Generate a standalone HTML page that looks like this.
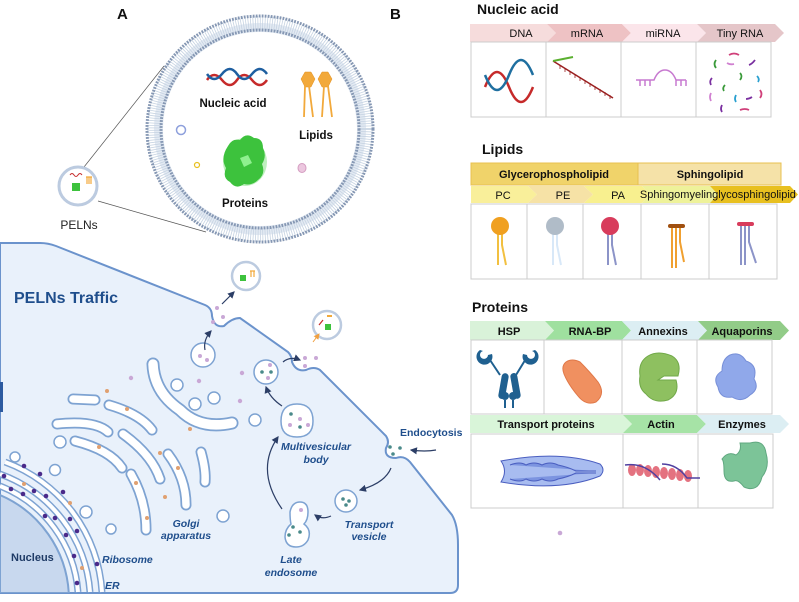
<!DOCTYPE html>
<html><head><meta charset="utf-8"><style>
html,body{margin:0;padding:0;background:#fff;width:799px;height:602px;overflow:hidden;}
svg{display:block;font-family:"Liberation Sans",Arial,sans-serif;}
.t{font-weight:bold;fill:#111;}
.lb{font-weight:bold;fill:#1f4e8c;font-style:italic;font-size:10.5px;}
.hd{font-weight:bold;font-size:11px;fill:#111;text-anchor:middle;}
.hn{font-size:11px;fill:#111;text-anchor:middle;}
</style></head><body>
<svg width="799" height="602" viewBox="0 0 799 602" xmlns="http://www.w3.org/2000/svg">
<defs>
<marker id="ar" markerWidth="6" markerHeight="6" refX="5" refY="3" orient="auto"><path d="M0,0 L6,3 L0,6 z" fill="#2c3e66"/></marker>
<marker id="ao" markerWidth="6" markerHeight="6" refX="5" refY="3" orient="auto"><path d="M0,0 L6,3 L0,6 z" fill="#f0a040"/></marker>
<clipPath id="cellclip"><path id="cellp" d="M0,243 L40,243 Q48,243 56,246 L205,305 Q212,308 212,316 Q214,328 224,326 Q232,318 240,318 L288,352 Q292,356 292,362 Q296,372 306,370 Q314,366 320,370 L386,436 Q390,442 386,448 Q384,458 396,458 Q404,455 410,462 L452,515 Q458,525 458,545 L458,585 Q458,593 450,593 L0,593 Z"/></clipPath>
</defs>

<text x="117" y="19" class="t" font-size="15">A</text>
<text x="390" y="19" class="t" font-size="15">B</text>

<line x1="84" y1="167" x2="164" y2="66" stroke="#555" stroke-width="0.7"/>
<line x1="98" y1="201" x2="206" y2="232" stroke="#555" stroke-width="0.7"/>

<circle cx="260" cy="129" r="106" fill="#e3eaf3"/>
<circle cx="260" cy="129" r="106" fill="none" stroke="#c6d3e2" stroke-width="14" stroke-dasharray="0.8 1.6"/>
<circle cx="260" cy="129" r="113" fill="none" stroke="#8597b3" stroke-width="3" stroke-dasharray="1.8 1.2"/>
<circle cx="260" cy="129" r="99" fill="none" stroke="#8597b3" stroke-width="3" stroke-dasharray="1.8 1.2"/>
<circle cx="260" cy="129" r="97" fill="#fff"/>
<path d="M207,80 q7,-10 15,0 t15,0 t15,0 t15,0" fill="none" stroke="#c62a2a" stroke-width="2.5"/>
<path d="M207,74 q7,10 15,0 t15,0 t15,0 t15,0" fill="none" stroke="#1f5fa0" stroke-width="2.5"/>
<text x="233" y="107" class="t" font-size="11.5" text-anchor="middle">Nucleic acid</text>
<g fill="#f2a93b" stroke="#e29020" stroke-width="0.5">
<polygon points="305,72 311,72 315,79 311,87 305,87 301,79"/>
<polygon points="322,72 328,72 332,79 328,87 322,87 318,79"/>
</g>
<g stroke="#f2a93b" stroke-width="1.8" fill="none">
<path d="M305,86 L304,117 M309,86 L313,117 M324,86 L322,117 M328,86 L332,117"/>
</g>
<text x="316" y="139" class="t" font-size="11.5" text-anchor="middle">Lipids</text>
<ellipse cx="245" cy="162" rx="22" ry="24" fill="#7de07d" opacity="0.5"/>
<path d="M228,146 q4,-8 12,-6 q6,-8 14,-2 q9,0 9,10 q4,8 -1,16 q4,10 -4,16 q-6,6 -14,4 q-8,6 -14,-2 q-8,-4 -4,-14 q-6,-10 2,-22z" fill="#3dc23d"/>
<path d="M240,158 l8,-3 l4,8 l-8,4z" fill="#8ff08f"/>
<text x="245" y="207" class="t" font-size="11.5" text-anchor="middle">Proteins</text>
<circle cx="181" cy="130" r="4.5" fill="#fff" stroke="#8ea0dc" stroke-width="1.5"/>
<circle cx="197" cy="165" r="2.5" fill="#fff" stroke="#e8c020" stroke-width="1.2"/>
<ellipse cx="302" cy="168" rx="4" ry="4.5" fill="#ecc7df" stroke="#d49cc0" stroke-width="1"/>

<circle cx="78" cy="186" r="19" fill="#fff" stroke="#bccbe0" stroke-width="3"/>
<path d="M70,175 q2,-3 4,0 t4,0 t4,0" fill="none" stroke="#c62a2a" stroke-width="1"/>
<rect x="72" y="183" width="8" height="8" fill="#3dc23d"/>
<path d="M86,177 h6 M87,177 v7 M89,177 v7 M91,177 v7" stroke="#f2a93b" stroke-width="1.2"/>
<text x="79" y="229" font-size="12" text-anchor="middle" fill="#222">PELNs</text>

<use href="#cellp" fill="#e9f1fb" stroke="#6b93cc" stroke-width="2"/>
<rect x="0" y="382" width="3" height="30" fill="#2c5aa0"/>
<text x="14" y="303" font-size="16" font-weight="bold" fill="#1f4e8c">PELNs Traffic</text>

<g clip-path="url(#cellclip)">
<path d="M0,495 A114,114 0 0 1 68.8,593 L0,593 Z" fill="#c8d8ee" stroke="#7ea3d2" stroke-width="2"/>
<g fill="none" stroke-linecap="butt">
<g stroke="#7ea3d2" stroke-width="7">
<path d="M0,486 A124,124 0 0 1 78,592"/>
<path d="M0,474 A136,136 0 0 1 90,592"/>
<path d="M5,462 A148,148 0 0 1 102,592"/>
</g>
<g stroke="#ffffff" stroke-width="4">
<path d="M0,486 A124,124 0 0 1 78,592"/>
<path d="M0,474 A136,136 0 0 1 90,592"/>
<path d="M5,462 A148,148 0 0 1 102,592"/>
</g>
</g>
<g fill="#4a2a8a">
<circle cx="4" cy="476" r="2.3"/><circle cx="24" cy="466" r="2.3"/><circle cx="40" cy="474" r="2.3"/>
<circle cx="11" cy="489" r="2.3"/><circle cx="34" cy="491" r="2.3"/><circle cx="23" cy="494" r="2.3"/>
<circle cx="46" cy="496" r="2.3"/><circle cx="63" cy="492" r="2.3"/><circle cx="55" cy="518" r="2.3"/>
<circle cx="45" cy="516" r="2.3"/><circle cx="70" cy="519" r="2.3"/><circle cx="66" cy="535" r="2.3"/>
<circle cx="77" cy="531" r="2.3"/><circle cx="74" cy="556" r="2.3"/><circle cx="97" cy="564" r="2.3"/><circle cx="77" cy="583" r="2.3"/>
</g>
</g>
<text x="11" y="561" font-size="11" font-weight="bold" fill="#1f3b66">Nucleus</text>
<text x="102" y="563" class="lb">Ribosome</text>
<text x="105" y="589" class="lb">ER</text>

<g fill="none" stroke-linecap="round">
<g stroke="#7ea3d2" stroke-width="11">
<path d="M73,399 L95,400"/>
<path d="M109,405 Q140,414 152,430"/>
<path d="M57,424 Q95,420 108,432"/>
<path d="M75,441 Q110,450 122,468"/>
<path d="M123,434 Q152,455 160,479"/>
<path d="M131,474 Q146,500 146,530"/>
<path d="M168,454 Q186,478 186,505"/>
<path d="M201,452 Q206,470 205,482"/>
<path d="M153,364 Q154,392 180,410 Q200,430 232,423" stroke-width="13"/>
</g>
<g stroke="#ffffff" stroke-width="7.5">
<path d="M73,399 L95,400"/>
<path d="M109,405 Q140,414 152,430"/>
<path d="M57,424 Q95,420 108,432"/>
<path d="M75,441 Q110,450 122,468"/>
<path d="M123,434 Q152,455 160,479"/>
<path d="M131,474 Q146,500 146,530"/>
<path d="M168,454 Q186,478 186,505"/>
<path d="M201,452 Q206,470 205,482"/>
<path d="M153,364 Q154,392 180,410 Q200,430 232,423" stroke-width="9.5"/>
</g>
</g>
<g fill="#fff" stroke="#7ea3d2" stroke-width="1.5">
<circle cx="177" cy="385" r="6"/><circle cx="195" cy="404" r="6"/><circle cx="214" cy="398" r="6"/>
<circle cx="255" cy="420" r="6"/><circle cx="223" cy="516" r="6"/><circle cx="60" cy="442" r="6"/>
<circle cx="15" cy="457" r="5"/><circle cx="86" cy="512" r="6"/><circle cx="111" cy="529" r="5"/>
<circle cx="55" cy="470" r="5.5"/>
<circle cx="203" cy="355" r="12"/><circle cx="266" cy="372" r="12"/>
<circle cx="346" cy="501" r="11"/>
<path d="M297,404 q16,0 16,17 q0,16 -16,16 q-16,0 -16,-16 q0,-17 16,-17z"/>
<path d="M300,502 q8,0 8,10 q0,8 -4,12 q8,6 4,16 q-4,7 -12,7 q-10,0 -11,-10 q0,-8 6,-13 q-1,-4 -1,-12 q2,-10 10,-10z"/>
</g>
<g fill="#c9a8d6">
<circle cx="131" cy="378" r="2.2"/><circle cx="199" cy="381" r="2.2"/><circle cx="242" cy="373" r="2.2"/>
<circle cx="240" cy="401" r="2.2"/><circle cx="200" cy="356" r="2"/><circle cx="207" cy="360" r="2"/>
<circle cx="270" cy="365" r="2"/><circle cx="268" cy="378" r="2"/><circle cx="290" cy="425" r="2"/>
<circle cx="300" cy="419" r="2"/><circle cx="308" cy="425" r="2"/><circle cx="301" cy="510" r="2"/>
<circle cx="217" cy="308" r="2"/><circle cx="223" cy="317" r="2"/><circle cx="213" cy="322" r="2"/>
<circle cx="305" cy="358" r="2"/><circle cx="305" cy="366" r="2"/><circle cx="316" cy="358" r="2"/>
<circle cx="560" cy="533" r="2.3"/>
</g>
<g fill="#e0a070">
<circle cx="107" cy="391" r="2"/><circle cx="127" cy="409" r="2"/><circle cx="99" cy="447" r="2"/>
<circle cx="136" cy="483" r="2"/><circle cx="160" cy="453" r="2"/><circle cx="165" cy="497" r="2"/>
<circle cx="147" cy="518" r="2"/><circle cx="178" cy="468" r="2"/><circle cx="190" cy="429" r="2"/>
<circle cx="24" cy="484" r="2"/><circle cx="70" cy="503" r="2"/><circle cx="82" cy="568" r="2"/>
</g>
<g fill="#4a8a8a">
<circle cx="262" cy="372" r="1.8"/><circle cx="271" cy="372" r="1.8"/><circle cx="291" cy="414" r="1.8"/>
<circle cx="300" cy="427" r="1.8"/><circle cx="293" cy="527" r="1.8"/><circle cx="289" cy="535" r="1.8"/>
<circle cx="300" cy="532" r="1.8"/><circle cx="343" cy="499" r="1.8"/><circle cx="349" cy="501" r="1.8"/><circle cx="346" cy="505" r="1.8"/>
<circle cx="390" cy="447" r="1.8"/><circle cx="400" cy="448" r="1.8"/><circle cx="393" cy="454" r="1.8"/>
</g>

<circle cx="246" cy="276" r="14" fill="#fff" stroke="#bccbe0" stroke-width="2.5"/>
<rect x="240" y="275" width="6" height="6" fill="#3dc23d"/><path d="M250,271 h5 M251,271 v6 M254,271 v6" stroke="#f2a93b" stroke-width="1.2"/>
<circle cx="327" cy="325" r="14" fill="#fff" stroke="#bccbe0" stroke-width="2.5"/>
<rect x="325" y="324" width="6" height="6" fill="#3dc23d"/><path d="M319,325 l4,-5" stroke="#c62a2a" stroke-width="1.2"/><path d="M327,316 h5" stroke="#f2a93b" stroke-width="2"/>

<g fill="none" stroke="#2c3e66" stroke-width="1.2" marker-end="url(#ar)">
<path d="M222,304 L234,292"/>
<path d="M205,350 Q203,340 211,331"/>
<path d="M283,362 Q290,356 300,360"/>
<path d="M282,406 Q270,398 266,387"/>
<path d="M282,509 Q255,470 278,437"/>
<path d="M331,516 Q322,520 315,515"/>
<path d="M391,468 Q385,483 360,490"/>
<path d="M436,450 Q425,452 411,450"/>
</g>
<path d="M313,342 L319,334" stroke="#f0a040" stroke-width="1" marker-end="url(#ao)"/>

<text x="400" y="436" font-size="10.5" font-weight="bold" fill="#1f4e8c">Endocytosis</text>
<text x="316" y="450" class="lb" text-anchor="middle">Multivesicular</text>
<text x="316" y="463" class="lb" text-anchor="middle">body</text>
<text x="291" y="563" class="lb" text-anchor="middle">Late</text>
<text x="291" y="576" class="lb" text-anchor="middle">endosome</text>
<text x="369" y="528" class="lb" text-anchor="middle">Transport</text>
<text x="369" y="540" class="lb" text-anchor="middle">vesicle</text>
<text x="186" y="527" class="lb" text-anchor="middle">Golgi</text>
<text x="186" y="539" class="lb" text-anchor="middle">apparatus</text>

<text x="477" y="14" font-size="14" font-weight="bold" fill="#111">Nucleic acid</text>
<polygon points="470,24 547,24 556,33 547,42 470,42" fill="#f6dcdc"/>
<polygon points="547,24 622,24 631,33 622,42 556,42 547,42 556,33" fill="#eec2c4"/>
<polygon points="622,24 697,24 706,33 697,42 622,42 631,33" fill="#fbe5ea"/>
<polygon points="697,24 775,24 784,33 775,42 697,42 706,33" fill="#e5c6c9"/>
<text x="521" y="37" class="hn">DNA</text><text x="587" y="37" class="hn">mRNA</text>
<text x="663" y="37" class="hn">miRNA</text><text x="740" y="37" class="hn">Tiny RNA</text>
<g fill="#fff" stroke="#ccc" stroke-width="1">
<rect x="471" y="42" width="75" height="75"/><rect x="546" y="42" width="75" height="75"/>
<rect x="621" y="42" width="75" height="75"/><rect x="696" y="42" width="75" height="75"/>
</g>
<path d="M485,87 q12,-30 24,0 t24,0" fill="none" stroke="#c62a2a" stroke-width="2.5"/>
<path d="M485,75 q12,30 24,0 t24,0" fill="none" stroke="#1f6fa0" stroke-width="2.5"/>
<path d="M553,61 L613,98" stroke="#9a2020" stroke-width="1.5"/>
<path d="M553,61 l20,-4" stroke="#5bb030" stroke-width="2"/>
<path d="M560,65 v4 M565,68 v4 M570,71 v4 M575,74 v4 M580,77 v4 M585,80 v4 M590,83 v4 M595,86 v4 M600,89 v4 M605,92 v4 M610,95 v4" stroke="#9a2020" stroke-width="0.8"/>
<path d="M636,80 h18 q4,-10 11,-10 q7,0 11,10 h10 M640,80 v6 M645,80 v6 M650,80 v6 M676,80 v6 M681,80 v6 M686,80 v6" fill="none" stroke="#c77ad0" stroke-width="1.5"/>
<g fill="none" stroke-width="1.8">
<path d="M716,60 q-3,4 0,8" stroke="#3a9a3a"/><path d="M729,55 q5,-3 10,0" stroke="#d0407a"/>
<path d="M755,60 q-3,4 -6,5" stroke="#7a30a0"/><path d="M712,78 q-3,3 -1,7" stroke="#7a30a0"/>
<path d="M740,73 q3,3 0,7" stroke="#3a9a3a"/><path d="M757,76 q3,3 1,6" stroke="#2aa0d0"/>
<path d="M711,93 q-2,4 0,8" stroke="#d080d0"/><path d="M725,85 q-3,3 -1,6" stroke="#3a9a3a"/>
<path d="M736,95 q-2,4 0,7" stroke="#2aa0d0"/><path d="M752,97 q-3,2 -6,2" stroke="#7a30a0"/>
<path d="M760,90 q3,4 0,8" stroke="#d0407a"/><path d="M722,105 q-2,4 0,7" stroke="#7a30a0"/>
<path d="M740,110 q5,-2 9,0" stroke="#d0407a"/><path d="M727,63 q3,2 7,1" stroke="#d080d0"/>
</g>

<text x="482" y="154" font-size="14" font-weight="bold" fill="#111">Lipids</text>
<rect x="471" y="163" width="167" height="22" fill="#f0d36a" stroke="#e8c050"/>
<rect x="638" y="163" width="143" height="22" fill="#f5e2a8" stroke="#e8c050"/>
<text x="554" y="178" class="hd" font-size="12">Glycerophospholipid</text>
<text x="710" y="178" class="hd" font-size="12">Sphingolipid</text>
<polygon points="471,186 528,186 537,194.5 528,203 471,203" fill="#f9ef9a"/>
<polygon points="528,186 584,186 593,194.5 584,203 528,203 537,194.5" fill="#f6e2a6"/>
<polygon points="584,186 642,186 650,194.5 642,203 584,203 593,194.5" fill="#f8f08f"/>
<polygon points="642,186 710,186 718,194.5 710,203 642,203 650,194.5" fill="#eef29a"/>
<polygon points="710,186 790,186 798,194.5 790,203 710,203 718,194.5" fill="#e8c020"/>
<text x="503" y="199" class="hn">PC</text><text x="563" y="199" class="hn">PE</text>
<text x="618" y="199" class="hn">PA</text>
<text x="676" y="198" class="hn" font-size="9">Sphingomyelin</text>
<text x="754" y="198" class="hn" font-size="9">glycosphingolipid</text>
<g fill="#fff" stroke="#ccc">
<rect x="471" y="204" width="56" height="75"/><rect x="527" y="204" width="56" height="75"/>
<rect x="583" y="204" width="58" height="75"/><rect x="641" y="204" width="68" height="75"/><rect x="709" y="204" width="68" height="75"/>
</g>
<g fill="none" stroke-width="2">
<path d="M498,230 L498,265 M502,230 L502,245 L506,265" stroke="#f2c040"/>
<path d="M553,230 L553,265 M557,230 L557,245 L561,265" stroke="#d8e8f8"/>
<path d="M608,230 L608,265 M612,230 L612,245 L616,265" stroke="#8c94c8"/>
<path d="M672,228 L672,268 M676,228 L676,268 M680,228 L680,242 L684,262" stroke="#f0a030"/>
<path d="M741,226 L741,265 M745,226 L745,265 M749,226 L749,242 L756,263" stroke="#8c94c8"/>
</g>
<circle cx="500" cy="226" r="9" fill="#f0a020"/>
<circle cx="555" cy="226" r="9" fill="#b0bcc8"/>
<circle cx="610" cy="226" r="9" fill="#d83c5c"/>
<rect x="668" y="224" width="17" height="4" rx="2" fill="#a05010"/>
<rect x="737" y="222" width="17" height="4" rx="2" fill="#d83c5c"/>

<text x="472" y="312" font-size="14" font-weight="bold" fill="#111">Proteins</text>
<polygon points="470,321 545,321 554,330.5 545,340 470,340" fill="#d9f2d9"/>
<polygon points="545,321 622,321 631,330.5 622,340 545,340 554,330.5" fill="#9fe09f"/>
<polygon points="622,321 698,321 707,330.5 698,340 622,340 631,330.5" fill="#dceef3"/>
<polygon points="698,321 780,321 789,330.5 780,340 698,340 707,330.5" fill="#92cc88"/>
<text x="509" y="335" class="hd">HSP</text><text x="590" y="335" class="hd">RNA-BP</text>
<text x="663" y="335" class="hd">Annexins</text><text x="742" y="335" class="hd">Aquaporins</text>
<g fill="#fff" stroke="#ccc">
<rect x="471" y="340" width="73" height="74"/><rect x="544" y="340" width="78" height="74"/>
<rect x="622" y="340" width="75" height="74"/><rect x="697" y="340" width="75" height="74"/>
</g>
<g fill="#1f6090">
<path d="M480,350 a8,8 0 1 0 12,4 l-4,1 a4,4 0 1 1 -5,-4z"/>
<path d="M535,350 a8,8 0 1 1 -12,4 l4,1 a4,4 0 1 0 5,-4z"/>
<rect x="500" y="373" width="7" height="26" rx="3.5" transform="rotate(10 503 386)"/>
<rect x="512" y="373" width="7" height="26" rx="3.5" transform="rotate(-10 515 386)"/>
<circle cx="505" cy="396" r="4"/><circle cx="513" cy="396" r="4"/>
<path d="M505,400 v8 M513,400 v8 M488,357 L500,375 M527,357 L516,375" stroke="#1f6090" stroke-width="2"/>
</g>
<path d="M566,362 q6,-4 14,0 q10,10 18,20 q8,12 -2,20 q-10,4 -18,-6 q-10,-12 -14,-22 q-3,-8 2,-12z" fill="#f09060" stroke="#e07848"/>
<path d="M648,356 q10,-6 24,0 q10,6 6,20 h-14 l-6,4 h18 q4,14 -8,20 q-14,4 -22,-6 q-8,-6 -6,-18 q-2,-14 8,-20z" fill="#8ec060" stroke="#70a848"/>
<path d="M730,355 q10,-4 16,6 q12,4 8,18 q6,10 -4,16 q-8,8 -18,2 q-12,2 -14,-10 q-6,-10 4,-16 q0,-12 8,-16z" fill="#90a8ea" stroke="#7890d8"/>

<polygon points="470,415 623,415 632,424 623,433 470,433" fill="#d9f5d9"/>
<polygon points="623,415 697,415 706,424 697,433 623,433 632,424" fill="#a6e3a6"/>
<polygon points="697,415 780,415 789,424 780,433 697,433 706,424" fill="#dceef3"/>
<text x="546" y="428" class="hd">Transport proteins</text>
<text x="661" y="428" class="hd">Actin</text><text x="742" y="428" class="hd">Enzymes</text>
<g fill="#fff" stroke="#ccc">
<rect x="471" y="434" width="152" height="74"/><rect x="623" y="434" width="75" height="74"/><rect x="698" y="434" width="75" height="74"/>
</g>
<path d="M501,461 Q560,450 600,464 Q606,470 600,476 Q560,492 501,482 Q508,471 501,461z" fill="#a8bcf0" stroke="#4a5ec0"/>
<path d="M510,465 q10,-4 16,0 q8,-4 16,0 q8,-4 16,0 q10,2 18,6 h20 M510,479 q10,4 16,0 q8,4 16,0 q8,4 16,0 q10,-2 18,-6 h20" fill="#7c94e0" stroke="#4a5ec0"/>
<g fill="#e05a6a" opacity="0.85">
<ellipse cx="632" cy="470" rx="4" ry="6"/><ellipse cx="640" cy="470" rx="4" ry="6"/><ellipse cx="648" cy="471" rx="4" ry="6"/>
<ellipse cx="656" cy="472" rx="4" ry="6"/><ellipse cx="664" cy="473" rx="4" ry="6"/><ellipse cx="672" cy="474" rx="4" ry="6"/><ellipse cx="680" cy="475" rx="4" ry="6"/><ellipse cx="688" cy="476" rx="4" ry="6"/>
</g>
<path d="M625,465 q20,-3 35,15 M662,464 q15,0 25,14 h13" fill="none" stroke="#5040a0" stroke-width="1.5"/>
<path d="M750,443 q14,-4 16,10 q4,14 -4,24 q-4,16 -18,10 q-6,-8 -10,-6 q-10,2 -10,-10 q0,-10 -2,-12 q6,-8 14,-4 q6,-4 4,-12z" fill="#7cc498" stroke="#60a880"/>
</svg>
</body></html>
